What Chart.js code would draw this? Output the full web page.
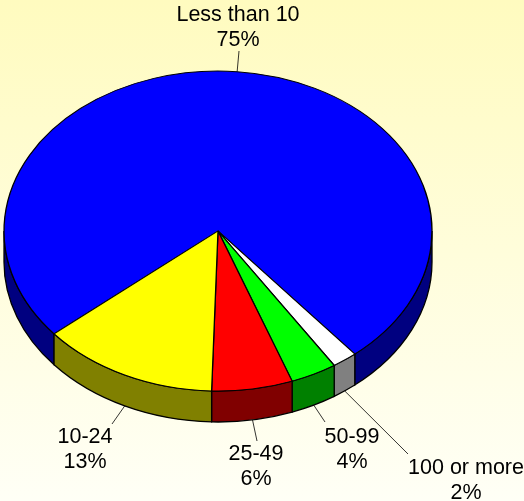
<!DOCTYPE html>
<html>
<head>
<meta charset="utf-8">
<title>Pie</title>
<script src="https://cdn.jsdelivr.net/npm/chart.js@4"></script>
<style>
  html, body { margin: 0; padding: 0; width: 524px; height: 501px; overflow: hidden; }
  body { background: linear-gradient(#fffbbf, #fffff6); }
  canvas { display: block; }
</style>
</head>
<body>
<canvas id="pie" width="524" height="501"></canvas>
<script>
const categories = ['Less than 10', '100 or more', '50-99', '25-49', '10-24'];
const shares = [75, 1.9, 3.5, 6.1, 13.4];

const topColors = ['#0000ff', '#ffffff', '#00ff00', '#ff0000', '#ffff00'];
const sideColors = ['#000080', '#808080', '#008000', '#800000', '#808000'];
// where each leader line ends and where its text is centred
const labelSpots = [
  { lineEnd: [239, 51], textX: 238, textY: 21 },
  { lineEnd: [408, 454], textX: 466, textY: 474 },
  { lineEnd: [325, 422], textX: 352, textY: 443 },
  { lineEnd: [257, 441], textX: 256, textY: 460 },
  { lineEnd: [112, 424], textX: 85, textY: 443 },
];

const squash = 160 / 214;
const faceY = 231;
const depth = 31;
const edge = 1.3;

const pie3d = {
  id: 'pie3d',
  beforeDatasetsDraw(chart) {
    const ctx = chart.ctx;
    const arcs = chart.getDatasetMeta(0).data;
    // side walls, only the part of each slice facing the viewer
    ctx.save();
    ctx.lineWidth = edge;
    ctx.strokeStyle = '#000';
    arcs.forEach((arc, i) => {
      const rx = arc.outerRadius;
      const ry = rx * squash;
      [0, Math.PI * 2].forEach(shift => {
        const a0 = Math.max(arc.startAngle, shift);
        const a1 = Math.min(arc.endAngle, shift + Math.PI);
        if (a1 <= a0) return;
        ctx.beginPath();
        ctx.ellipse(arc.x, faceY, rx, ry, 0, a0, a1);
        ctx.ellipse(arc.x, faceY + depth, rx, ry, 0, a1, a0, true);
        ctx.closePath();
        ctx.fillStyle = sideColors[i];
        ctx.fill();
        ctx.stroke();
      });
    });
    ctx.restore();
    // the top face is the normal pie, flattened
    const first = arcs[0];
    ctx.save();
    ctx.translate(first.x, faceY);
    ctx.scale(1, squash);
    ctx.translate(-first.x, -first.y);
  },
  afterDatasetsDraw(chart) {
    const ctx = chart.ctx;
    ctx.restore();
    const arcs = chart.getDatasetMeta(0).data;
    ctx.save();
    ctx.font = '21.5px "Liberation Sans"';
    ctx.textAlign = 'center';
    ctx.textBaseline = 'alphabetic';
    arcs.forEach((arc, i) => {
      const mid = (arc.startAngle + arc.endAngle) / 2;
      const sx = arc.x + arc.outerRadius * Math.cos(mid);
      let sy = faceY + arc.outerRadius * squash * Math.sin(mid);
      if (Math.sin(mid) > 0) sy += depth;
      const spot = labelSpots[i];
      ctx.beginPath();
      ctx.moveTo(sx, sy);
      ctx.lineTo(spot.lineEnd[0], spot.lineEnd[1]);
      ctx.strokeStyle = '#000';
      ctx.lineWidth = 0.8;
      ctx.stroke();
      ctx.fillStyle = '#000';
      ctx.fillText(categories[i], spot.textX, spot.textY);
      ctx.fillText(Math.round(shares[i]) + '%', spot.textX, spot.textY + 25);
    });
    ctx.restore();
  }
};

new Chart(document.getElementById('pie').getContext('2d'), {
  type: 'pie',
  data: {
    labels: categories,
    datasets: [{
      data: shares,
      backgroundColor: topColors,
      borderColor: '#000',
      borderWidth: edge,
    }]
  },
  options: {
    responsive: false,
    animation: false,
    rotation: 230,
    layout: { padding: { left: 3.35, right: 91.35, top: 35.85, bottom: 35.85 } },
    plugins: { legend: { display: false }, tooltip: { enabled: false }, title: { display: false } }
  },
  plugins: [pie3d]
});
</script>
</body>
</html>
